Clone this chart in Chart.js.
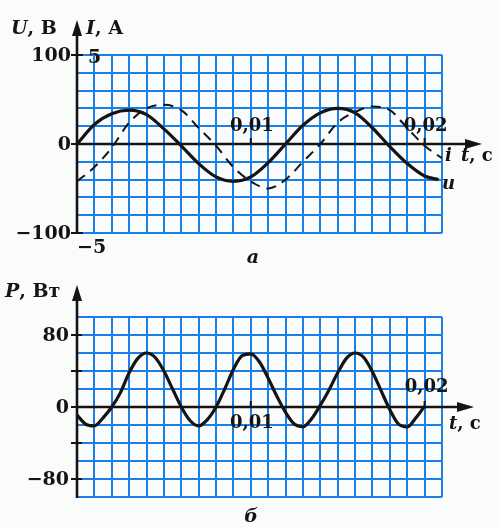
<!DOCTYPE html>
<html>
<head>
<meta charset="utf-8">
<script src="https://cdn.jsdelivr.net/npm/chart.js@4.4.0/dist/chart.umd.min.js"></script>
<style>
  body { margin: 0; background: #fafbfb; }
  #wrap { position: relative; width: 500px; height: 527px; }
  canvas { position: absolute; left: 0; }
  #top-chart { top: 0; }
  #bottom-chart { top: 265px; }
</style>
</head>
<body>
<div id="wrap">
  <canvas id="top-chart" width="500" height="265"></canvas>
  <canvas id="bottom-chart" width="500" height="262"></canvas>
</div>
<script>
// Tempo em ms (uma célula da grade = 0,001 s)
const tU = [0, 1, 2, 3, 4, 5, 6, 7, 8, 9, 10, 11, 12, 13, 14, 15, 16, 17, 18, 19, 20, 20.8];
const uValues = [0, 22, 34, 38, 33, 17, -2, -22, -37, -42, -37, -21, 0, 21, 35, 40, 35, 18, -3, -22, -36, -40];

const tI = [0, 1, 2, 3, 4, 5, 6, 7, 8, 9, 10, 11, 12, 13, 14, 15, 16, 17, 18, 19, 20, 21];
const iValues = [-2.1, -1.3, -0.2, 1.2, 2.0, 2.2, 1.9, 0.9, -0.1, -1.3, -2.1, -2.5, -2.0, -1.0, 0, 1.2, 1.8, 2.1, 1.9, 0.9, -0.1, -0.8];

const tP = [0, 0.5, 1, 1.5, 2, 2.5, 3, 3.5, 4, 4.5, 5, 5.5, 6, 6.5, 7, 7.5, 8, 8.5, 9, 9.5, 10,
            10.5, 11, 11.5, 12, 12.5, 13, 13.5, 14, 14.5, 15, 15.5, 16, 16.5, 17, 17.5, 18, 18.5, 19, 19.5, 20];
const pValues = [-9, -19, -21, -12, 0, 16, 38, 54, 60, 55, 40, 20, 0, -15, -21, -14, 0, 20, 42, 57, 59,
                 50, 32, 12, -6, -19, -22, -13, 2, 19, 38, 54, 60, 55, 39, 18, -3, -19, -22, -12, 1];

// Rótulos
const topYLabels = ['100', '0', '\u2212100'];
const topYValues = [100, 0, -100];
const bottomYLabels = ['80', '0', '\u221280'];
const bottomYValues = [80, 0, -80];
const bottomYMarks = [80, 40, 0, -40, -80];
const tLabelValues = [10, 20];
const tLabels = ['0,01', '0,02'];

const BLUE = '#1a80e8';
const INK = '#141414';
const FONT = '"DejaVu Serif"';

function toPoints(xs, ys) {
    return xs.map((x, k) => ({ x: x, y: ys[k] }));
}

// Texto com partes itálicas e normais
function drawRuns(ctx, x, y, runs, size) {
    ctx.textAlign = 'left';
    runs.forEach(([txt, italic]) => {
        ctx.font = (italic ? 'italic ' : '') + 'bold ' + size + 'px ' + FONT;
        ctx.fillText(txt, x, y);
        x += ctx.measureText(txt).width;
    });
}

function drawText(ctx, txt, x, y, align, size, italic) {
    ctx.font = (italic ? 'italic ' : '') + 'bold ' + size + 'px ' + FONT;
    ctx.textAlign = align;
    ctx.fillText(txt, x, y);
}

function drawAxes(ctx, x0, y0, bottom, yTip, xTip) {
    ctx.lineWidth = 2.6;
    ctx.beginPath();
    ctx.moveTo(x0, bottom + 1);
    ctx.lineTo(x0, yTip + 10);
    ctx.moveTo(x0, y0);
    ctx.lineTo(xTip - 10, y0);
    ctx.stroke();
    // setas
    ctx.beginPath();
    ctx.moveTo(x0, yTip);
    ctx.lineTo(x0 - 5, yTip + 16);
    ctx.lineTo(x0 + 5, yTip + 16);
    ctx.closePath();
    ctx.fill();
    ctx.beginPath();
    ctx.moveTo(xTip, y0);
    ctx.lineTo(xTip - 17, y0 - 5);
    ctx.lineTo(xTip - 17, y0 + 5);
    ctx.closePath();
    ctx.fill();
}

function scaleOptions(min, max, step, horizontal) {
    return {
        type: 'linear',
        min: min,
        max: max,
        ticks: { display: false, stepSize: step },
        grid: { color: BLUE, lineWidth: 2, drawTicks: false },
        border: { display: false },
        afterFit: s => { if (horizontal) s.height = 0; else s.width = 0; }
    };
}

// Decoração do gráfico a
const topDecor = {
    id: 'topDecor',
    afterDatasetsDraw(chart) {
        const { ctx, chartArea, scales: { x, y } } = chart;
        const x0 = x.getPixelForValue(0);
        const y0 = y.getPixelForValue(0);
        ctx.save();
        ctx.strokeStyle = INK;
        ctx.fillStyle = INK;
        ctx.textBaseline = 'middle';
        drawAxes(ctx, x0, y0, chartArea.bottom, 20, 482);

        ctx.lineWidth = 2;
        ctx.beginPath();
        topYValues.forEach(v => {
            const py = y.getPixelForValue(v);
            ctx.moveTo(x0 - 6, py);
            ctx.lineTo(x0 + 6, py);
        });
        tLabelValues.forEach(v => {
            const px = x.getPixelForValue(v);
            ctx.moveTo(px, y0 - 6);
            ctx.lineTo(px, y0);
        });
        ctx.stroke();

        topYValues.forEach((v, k) => {
            drawText(ctx, topYLabels[k], 71, y.getPixelForValue(v) + 1, 'right', 19, false);
        });
        drawText(ctx, '5', x0 + 11, y.getPixelForValue(100) + 3, 'left', 19, false);
        drawText(ctx, '\u22125', x0, y.getPixelForValue(-100) + 15, 'left', 19, false);
        tLabelValues.forEach((v, k) => {
            drawText(ctx, tLabels[k], x.getPixelForValue(v) + 1, y0 - 18, 'center', 18, false);
        });

        drawRuns(ctx, 11, 29, [['U', true], [', \u0412', false]], 19);
        drawRuns(ctx, 86, 29, [['I', true], [', \u0410', false]], 19);
        drawRuns(ctx, 461, y0 + 12, [['t', true], [', c', false]], 18);
        drawText(ctx, 'i', 445, y0 + 12, 'left', 18, true);
        drawText(ctx, 'u', 442, y0 + 40, 'left', 18, true);
        drawText(ctx, '\u0430', 253, 258, 'center', 19, true);
        ctx.restore();
    }
};

// Decoração do gráfico б
const bottomDecor = {
    id: 'bottomDecor',
    afterDatasetsDraw(chart) {
        const { ctx, chartArea, scales: { x, y } } = chart;
        const x0 = x.getPixelForValue(0);
        const y0 = y.getPixelForValue(0);
        ctx.save();
        ctx.strokeStyle = INK;
        ctx.fillStyle = INK;
        ctx.textBaseline = 'middle';
        drawAxes(ctx, x0, y0, chartArea.bottom, 20, 474);

        ctx.lineWidth = 2;
        ctx.beginPath();
        bottomYMarks.forEach(v => {
            const py = y.getPixelForValue(v);
            ctx.moveTo(x0 - 6, py);
            ctx.lineTo(x0 + 5, py);
        });
        tLabelValues.forEach(v => {
            const px = x.getPixelForValue(v);
            ctx.moveTo(px, y0 - 6);
            ctx.lineTo(px, y0);
        });
        ctx.stroke();

        bottomYValues.forEach((v, k) => {
            drawText(ctx, bottomYLabels[k], 69, y.getPixelForValue(v) + 1, 'right', 19, false);
        });
        drawText(ctx, tLabels[0], x.getPixelForValue(10) + 1, y0 + 16, 'center', 18, false);
        drawText(ctx, tLabels[1], x.getPixelForValue(20) + 2, y0 - 20, 'center', 18, false);

        drawRuns(ctx, 5, 27, [['P', true], [', \u0412\u0442', false]], 19);
        drawRuns(ctx, 449, y0 + 17, [['t', true], [', c', false]], 18);
        drawText(ctx, '\u0431', 251, 252, 'center', 19, true);
        ctx.restore();
    }
};

Chart.defaults.font.family = FONT;

new Chart(document.getElementById('top-chart'), {
    type: 'line',
    data: {
        datasets: [
            {
                label: 'u',
                data: toPoints(tU, uValues),
                yAxisID: 'y',
                borderColor: INK,
                borderWidth: 3.2,
                pointRadius: 0,
                cubicInterpolationMode: 'monotone',
                fill: false
            },
            {
                label: 'i',
                data: toPoints(tI, iValues),
                yAxisID: 'yI',
                borderColor: INK,
                borderWidth: 2,
                borderDash: [10, 7],
                pointRadius: 0,
                cubicInterpolationMode: 'monotone',
                fill: false
            }
        ]
    },
    options: {
        responsive: false,
        animation: false,
        layout: { padding: { left: 77, right: 58, top: 55, bottom: 32 } },
        plugins: { legend: { display: false }, tooltip: { enabled: false } },
        scales: {
            x: scaleOptions(0, 21, 1, true),
            y: scaleOptions(-100, 100, 20, false),
            yI: {
                type: 'linear', min: -5, max: 5, display: false,
                afterFit: s => { s.width = 0; }
            }
        }
    },
    plugins: [topDecor]
});

new Chart(document.getElementById('bottom-chart'), {
    type: 'line',
    data: {
        datasets: [{
            label: 'P',
            data: toPoints(tP, pValues),
            borderColor: INK,
            borderWidth: 3.2,
            pointRadius: 0,
            cubicInterpolationMode: 'monotone',
            fill: false
        }]
    },
    options: {
        responsive: false,
        animation: false,
        layout: { padding: { left: 77, right: 58, top: 52, bottom: 30 } },
        plugins: { legend: { display: false }, tooltip: { enabled: false } },
        scales: {
            x: scaleOptions(0, 21, 1, true),
            y: scaleOptions(-100, 100, 20, false)
        }
    },
    plugins: [bottomDecor]
});
</script>
</body>
</html>
